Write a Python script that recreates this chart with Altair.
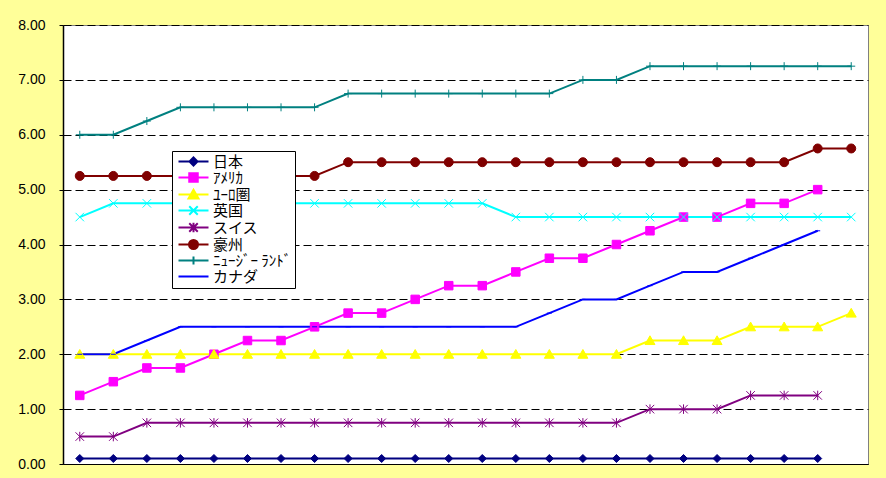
import altair as alt
import pandas as pd

series_names = ["日本", "ｱﾒﾘｶ", "ﾕｰﾛ圏", "英国", "スイス", "豪州", "ﾆｭｰｼﾞｰ ﾗﾝﾄﾞ", "カナダ"]
series_colors = ["#000080", "#FF00FF", "#FFFF00", "#00FFFF", "#800080", "#800000", "#008080", "#0000FF"]

japan = [0.1] * 23
usa = [1.25, 1.5, 1.75, 1.75, 2.0, 2.25, 2.25, 2.5, 2.75, 2.75, 3.0, 3.25, 3.25, 3.5,
       3.75, 3.75, 4.0, 4.25, 4.5, 4.5, 4.75, 4.75, 5.0]
euro = [2.0] * 17 + [2.25, 2.25, 2.25, 2.5, 2.5, 2.5, 2.75]
uk = [4.5] + [4.75] * 12 + [4.5] * 11
swiss = [0.5, 0.5] + [0.75] * 15 + [1.0, 1.0, 1.0, 1.25, 1.25, 1.25]
australia = [5.25] * 8 + [5.5] * 14 + [5.75, 5.75]
nz = [6.0, 6.0, 6.25, 6.5, 6.5, 6.5, 6.5, 6.5] + [6.75] * 7 + [7.0, 7.0] + [7.25] * 7
canada = [2.0, 2.0, 2.25] + [2.5] * 11 + [2.75, 3.0, 3.0, 3.25, 3.5, 3.5, 3.75, 4.0, 4.25]

all_values = [japan, usa, euro, uk, swiss, australia, nz, canada]
y_ticks = [0, 1, 2, 3, 4, 5, 6, 7, 8]

# marker shapes (unit box), for points on the chart
marker_paths = [
    "M0,-0.8L0.8,0L0,0.8L-0.8,0Z",                               # diamond
    "M-0.85,-0.85H0.85V0.85H-0.85Z",                              # square
    "M0,-0.95L1,0.8H-1Z",                                         # triangle
    "M-0.85,-0.85L0.85,0.85M-0.85,0.85L0.85,-0.85",               # x
    "M-0.85,-0.85L0.85,0.85M-0.85,0.85L0.85,-0.85M0,-0.95V0.95",  # asterisk
    "M-0.9,0A0.9,0.9,0,1,0,0.9,0A0.9,0.9,0,1,0,-0.9,0Z",          # circle
    "M0,-0.8V0.8M-0.8,0H0.8",                                     # plus
    "M-0.5,0H0.5",                                                # dash
]
legend_paths = ["M-3,0H3" + p for p in marker_paths]

rows = []
for name, vals in zip(series_names, all_values):
    for i, v in enumerate(vals):
        rows.append({"idx": i, "series": name, "value": v})
df = pd.DataFrame(rows)

x_enc = alt.X("idx:O", axis=alt.Axis(labels=False, ticks=False, title=None, grid=False,
                                      domain=True, domainColor="#000000", domainWidth=1))
y_enc = alt.Y("value:Q",
              scale=alt.Scale(domain=[0, 8], nice=False),
              axis=alt.Axis(values=y_ticks, format=".2f", title=None, grid=True,
                            gridColor="#000000", gridDash=[8, 4], gridWidth=1,
                            labelFont="Liberation Sans", labelFontSize=14, labelColor="#000000",
                            ticks=True, tickSize=4, tickColor="#000000",
                            labelPadding=14, domainColor="#000000", domainWidth=1.5))

base = alt.Chart(df)

lines = base.mark_line(strokeWidth=2).encode(
    x=x_enc, y=y_enc,
    color=alt.Color("series:N", scale=alt.Scale(domain=series_names, range=series_colors), legend=None),
    detail="series:N",
)

points = base.mark_point(filled=True, size=100, strokeWidth=1, opacity=1).encode(
    x=x_enc, y=y_enc,
    fill=alt.Fill("series:N", scale=alt.Scale(domain=series_names, range=series_colors), legend=None),
    stroke=alt.Stroke("series:N", scale=alt.Scale(domain=series_names, range=series_colors), legend=None),
    shape=alt.Shape("series:N", scale=alt.Scale(domain=series_names, range=marker_paths), legend=None),
)

leg = alt.Legend(title=None, orient="none", legendX=109, legendY=126,
                 fillColor="#FFFFFF", strokeColor="#000000", padding=3,
                 labelFont="Noto Sans CJK JP", labelFontSize=15, labelColor="#000000",
                 symbolSize=100, symbolStrokeWidth=2, symbolOffset=11, labelOffset=12,
                 rowPadding=-1, labelLimit=200)

legend_layer = base.transform_filter("false").mark_point(filled=True, size=100, opacity=1).encode(
    x=x_enc, y=y_enc,
    fill=alt.Fill("series:N", scale=alt.Scale(domain=series_names, range=series_colors), legend=leg),
    stroke=alt.Stroke("series:N", scale=alt.Scale(domain=series_names, range=series_colors), legend=leg),
    shape=alt.Shape("series:N", scale=alt.Scale(domain=series_names, range=legend_paths), legend=leg),
)

chart = alt.layer(lines, points, legend_layer).resolve_scale(
    fill="independent", stroke="independent", shape="independent"
).properties(
    width=805, height=439,
    autosize=alt.AutoSizeParams(type="none"),
    padding={"left": 63, "top": 25, "right": 18, "bottom": 14},
    background="#FFFF99",
).configure_view(
    fill="#FFFFFF", stroke="#808080", strokeWidth=1
)

chart.save("out.html", embed_options={"renderer": "svg", "actions": False})
